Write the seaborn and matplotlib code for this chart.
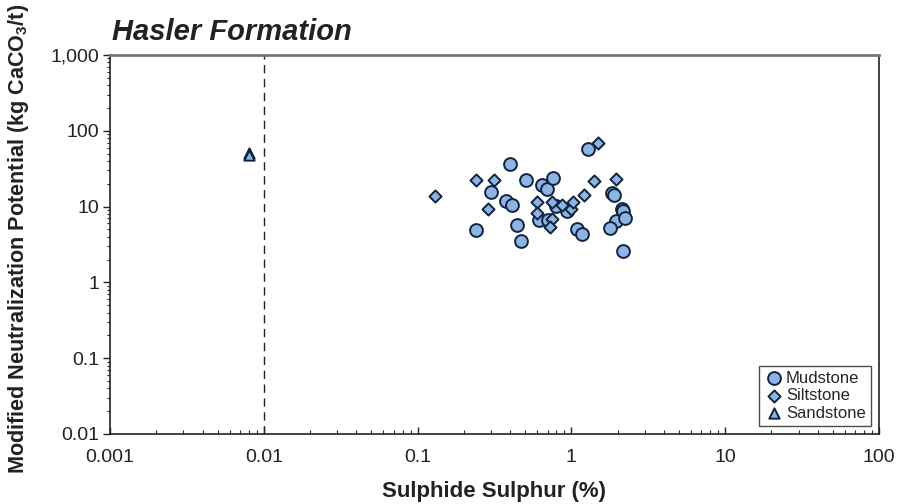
import matplotlib
matplotlib.use("Agg")
import matplotlib.pyplot as plt
import matplotlib.ticker as mticker
import seaborn as sns
import pandas as pd
import numpy as np

# ---- data ----
mud_x = [0.238, 0.298, 0.396, 0.51, 0.378, 0.408, 0.446, 0.473, 0.64, 0.69,
         0.76, 0.62, 0.70, 0.80, 0.93, 1.29, 1.09, 1.18, 1.85, 1.90,
         2.14, 2.18, 1.96, 2.24, 1.79, 2.18]
mud_y = [4.9, 15.6, 36.5, 22.4, 11.9, 10.5, 5.7, 3.5, 19.3, 17.1,
         23.8, 6.7, 6.7, 10.2, 8.8, 57.5, 5.1, 4.4, 15.1, 14.2,
         9.3, 8.8, 6.5, 7.1, 5.2, 2.6]
silt_x = [0.129, 0.238, 0.312, 0.285, 0.60, 0.60, 0.75, 0.73, 0.75, 0.87,
          1.00, 1.03, 1.21, 1.41, 1.50, 1.96]
silt_y = [13.8, 22.4, 22.4, 9.3, 11.5, 8.2, 6.9, 5.4, 11.5, 10.5,
          9.3, 11.5, 14.2, 21.8, 69.0, 23.1]
sand_x = [0.008, 0.008]
sand_y = [51.0, 48.0]

lith_names = ["Mudstone", "Siltstone", "Sandstone"]
title_text = "Hasler Formation"
x_label = "Sulphide Sulphur (%)"
y_label = r"Modified Neutralization Potential (kg CaCO$_3$/t)"
x_ticks = [0.001, 0.01, 0.1, 1, 10, 100]
x_tick_labels = ["0.001", "0.01", "0.1", "1", "10", "100"]
y_ticks = [0.01, 0.1, 1, 10, 100, 1000]
y_tick_labels = ["0.01", "0.1", "1", "10", "100", "1,000"]
threshold_x = 0.01

df = pd.DataFrame({
    "S": mud_x + silt_x + sand_x,
    "MNP": mud_y + silt_y + sand_y,
    "Lithology": [lith_names[0]] * len(mud_x) + [lith_names[1]] * len(silt_x)
                 + [lith_names[2]] * len(sand_x),
})

sns.set_theme(style="white")
plt.rcParams["font.family"] = ["Liberation Sans", "DejaVu Sans"]
plt.rcParams["mathtext.fontset"] = "custom"
plt.rcParams["mathtext.rm"] = "Liberation Sans:bold"
plt.rcParams["mathtext.default"] = "rm"

fill = "#8db4e2"
edge = "#0f243e"

fig = plt.figure(figsize=(8.99, 5.04), dpi=100)
ax = fig.add_axes([110 / 899, 1 - 434 / 504, (879 - 110) / 899, (434 - 55) / 504])

markers = {"Mudstone": "o", "Siltstone": "D", "Sandstone": "^"}
sizes = {"Mudstone": 85, "Siltstone": 38, "Sandstone": 55}
for name in lith_names:
    sub = df[df["Lithology"] == name]
    sns.scatterplot(data=sub, x="S", y="MNP", ax=ax, marker=markers[name],
                    s=sizes[name], color=fill, edgecolor=edge, linewidth=1.4,
                    label=name, zorder=3)

ax.axvline(threshold_x, color="#222222", lw=1.0, ls=(0, (6, 4)), zorder=2)

ax.set_xscale("log")
ax.set_yscale("log")
ax.set_xlim(0.001, 100)
ax.set_ylim(0.01, 1000)
ax.set_xticks(x_ticks)
ax.set_xticklabels(x_tick_labels)
ax.set_yticks(y_ticks)
ax.set_yticklabels(y_tick_labels)
ax.xaxis.set_minor_locator(mticker.LogLocator(base=10, subs=np.arange(2, 10), numticks=20))
ax.yaxis.set_minor_locator(mticker.LogLocator(base=10, subs=np.arange(2, 10), numticks=20))
ax.xaxis.set_minor_formatter(mticker.NullFormatter())
ax.yaxis.set_minor_formatter(mticker.NullFormatter())

ax.tick_params(axis="x", which="major", direction="in", length=5, width=1, colors="#222222",
               labelsize=14, labelcolor="#222222", pad=11)
ax.tick_params(axis="x", which="minor", direction="in", length=3, width=0.8, colors="#222222")
ax.tick_params(axis="y", which="major", direction="out", length=5, width=1, colors="#222222",
               labelsize=14, labelcolor="#222222", pad=3)
ax.tick_params(axis="y", which="minor", direction="out", length=2.5, width=0.8, colors="#222222")
ax.tick_params(bottom=True, left=True, top=False, right=False, which="both")

for side in ["left", "bottom", "right"]:
    ax.spines[side].set_color("#222222")
    ax.spines[side].set_linewidth(1.2)
    ax.spines[side].set_visible(True)
ax.spines["top"].set_color("#777777")
ax.spines["top"].set_linewidth(2)
ax.spines["top"].set_visible(True)

ax.set_xlabel(x_label, fontsize=16, fontweight="bold", color="#222222")
ax.xaxis.set_label_coords(0.5, -0.125)
ax.set_ylabel(y_label, fontsize=15.6, fontweight="bold", color="#222222")
ax.yaxis.set_label_coords(-0.103, 0.515)

fig.text(112 / 899, 1 - 40 / 504, title_text, fontsize=21, fontweight="bold",
         fontstyle="italic", color="#222222", ha="left", va="baseline")

leg = ax.legend(loc="lower right", fontsize=12, frameon=True, fancybox=False,
                edgecolor="#222222", borderpad=0.3, handletextpad=0.1,
                labelspacing=0.15, handlelength=1.2, borderaxespad=0.5)
leg.get_frame().set_linewidth(1.0)
leg.get_frame().set_facecolor("white")

fig.savefig("out.png", dpi=100)
